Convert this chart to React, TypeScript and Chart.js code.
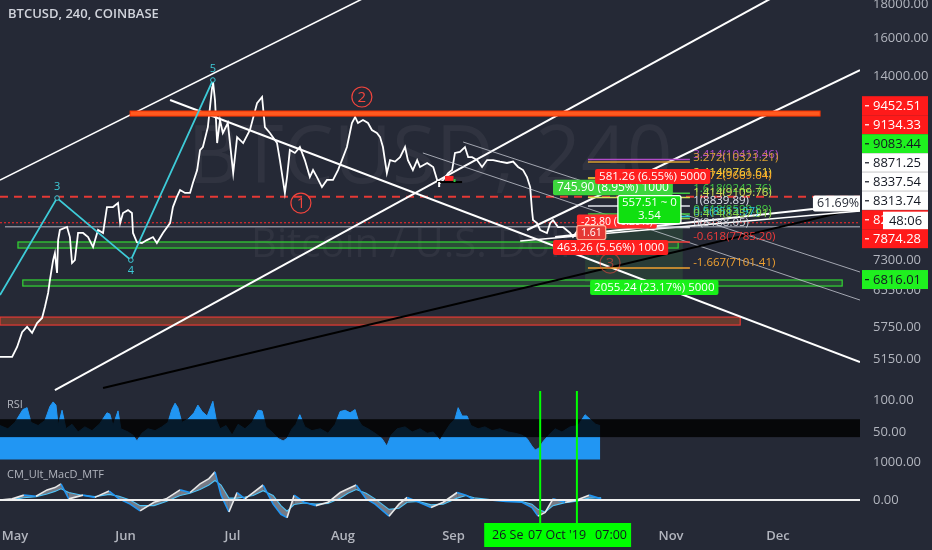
import React, { useEffect, useRef } from 'react';
import { Chart, registerables } from 'chart.js';

Chart.register(...registerables);

// ---------------- data (days counted from 1 May 2019) ----------------
const priceDays = [-4.2,-0.8,0.6,2.0,3.4,4.8,6.2,7.6,8.4,9.3,9.8,10.7,11.2,11.8,12.1,12.6,14.6,15.4,16.0,16.8,17.7,19.1,20.5,21.9,23.3,24.7,25.8,27.5,28.9,29.5,30.3,31.7,32.8,33.1,34.2,35.6,37.0,38.7,39.8,41.5,43.5,44.3,45.4,46.3,47.7,49.1,49.9,51.1,51.9,52.7,54.1,55.3,55.5,56.1,56.7,57.5,58.3,59.7,61.2,62.3,64.0,65.9,67.9,69.3,70.1,71.5,73.5,74.3,75.7,76.3,77.1,78.5,79.9,81.3,82.7,83.6,84.7,86.1,87.5,89.2,90.6,91.7,93.1,94.5,95.4,96.2,97.6,99.0,100.1,101.5,102.4,103.2,104.3,105.2,106.6,108.0,109.4,110.2,111.6,112.8,113.6,115.6,117.3,118.4,119.2,120.1,121.5,122.6,123.4,124.8,126.2,127.1,128.2,129.6,131.0,132.4,134.1,136.0,138.0,139.7,141.1,142.5,143.6,144.5,145.0,145.3,146.4,147.3,149.2,150.1,150.9,152.3,153.7,155.7,156.5,158.5,160.7,162.7];
const priceCloses = [5185,5185,5370,5660,5765,5645,5845,5950,6185,6500,6805,7300,7485,6975,7835,8120,8205,7920,7225,7300,8035,8035,7920,7645,8120,8035,8805,8805,8930,8320,8620,8710,8620,8035,7775,7755,7835,7920,7755,8035,8320,8805,9125,9350,9255,9255,9585,10035,10770,10885,11680,13455,13795,12850,11040,11975,11440,11850,9930,11275,11040,11560,12715,12990,11680,11440,11040,10395,9255,9790,10770,10660,10885,10395,9790,10035,9790,9450,9690,9690,10035,10395,10885,11850,12105,11850,11975,11850,11560,11440,11275,10885,9930,10395,10340,10505,10885,10395,10035,10395,10145,10290,10145,9690,9585,9690,9930,10035,10660,10700,10885,10505,10505,10395,10145,10395,10395,10340,10290,10340,10145,10035,9790,9450,8710,8410,8320,8120,8035,8320,8410,8205,8205,8035,7920,8205,8340,8230];

const rsiDays = [-4.2,-2.0,0,2.2,3.4,4.5,6.5,8.4,9.8,10.7,11.5,12.1,13.2,14.3,16.0,17.7,19.6,21.6,23.8,25.8,26.6,27.5,28.9,29.7,31.7,33.1,34.2,35.6,37.3,39.3,41.2,42.9,44.0,44.9,45.7,46.8,48.5,50.2,51.3,52.5,53.9,55.5,56.4,57.5,59.2,60.9,62.6,64.5,66.5,68.2,69.3,70.4,72.1,73.8,75.2,76.3,77.7,78.8,79.9,81.3,83.3,85.6,87.8,89.8,91.2,92.6,94.0,95.4,96.2,97.3,99.0,101.0,102.9,104.3,105.5,107.2,109.4,111.4,113.6,115.6,117.3,119.2,120.6,122.0,123.4,124.3,125.4,126.8,127.9,129.9,131.8,133.8,136.0,138.3,140.3,142.2,143.6,145.0,145.9,147.0,148.1,149.5,151.5,153.4,155.7,157.9,159.9,161.3,162.9,164.1];
const rsiValues = [60,55,65,85,88,65,60,68,90,97,92,60,84,55,62,50,58,52,63,80,78,60,83,55,50,45,36,48,55,52,58,65,85,95,88,65,70,80,92,82,75,98,70,55,60,45,62,55,65,84,83,58,50,40,36,40,55,62,77,58,52,55,48,62,82,84,80,85,70,60,55,48,40,28,45,55,58,50,55,48,50,37,50,62,70,88,75,75,60,55,58,52,55,50,48,45,40,28,22,25,35,44,55,50,58,60,77,70,62,60];

const macdDays = [-4.2,-0.8,2.5,5.9,9.0,11.2,12.9,15.1,19.1,22.4,26.4,29.2,32.3,35.1,39.0,42.4,46.3,49.1,51.9,54.4,56.1,57.8,60.0,62.3,64.5,66.8,69.6,72.4,74.6,76.3,78.3,81.1,84.4,87.8,91.2,93.4,95.7,98.5,101.0,104.9,107.7,110.0,113.3,116.7,120.1,124.0,126.5,128.8,133.2,137.7,142.2,145.0,146.7,148.7,150.9,154.3,157.6,161.0,164.4];
const macdValues = [0,30,130,100,270,330,430,30,130,70,240,30,-110,-290,-60,30,270,200,430,570,750,130,-320,200,30,200,400,-110,-380,-470,130,-60,-150,-60,200,300,400,30,-110,-430,-110,70,-60,-200,-60,200,130,0,0,-40,-60,-200,-430,-330,30,-60,0,130,30];
const signalValues = [0,10,60,90,160,230,300,200,120,90,150,100,0,-150,-150,-40,120,180,280,400,520,400,50,50,80,120,250,120,-150,-300,-120,-80,-110,-90,50,180,280,180,30,-250,-220,-60,-40,-130,-110,50,120,60,10,-20,-40,-110,-250,-320,-150,-70,-30,50,60];

const xTickDays = [0, 31, 61, 92, 123, 153, 184, 214];
const xTickLabels = ['May', 'Jun', 'Jul', 'Aug', 'Sep', 'Oct', 'Nov', 'Dec'];
const priceTicks = [18000, 16000, 14000, 7300, 6550, 5750, 5150];
const rsiTicks = [100, 50];
const macdTicks = [1000, 0];
const rsiBand = [42, 70];
const rsiFloor = 7;

const horizontalLevels = [
  { id: 'breakdown', price: 9134.33, from: -4.2, to: 237 },
  { id: 'lastPrice', price: 8330, from: -4.2, to: 237 },
  { id: 'pivot', price: 8210, from: -2.8, to: 237 },
];

const zones = [
  { id: 'supportA', from: 0.84, to: 186.0, hi: 7783, lo: 7618 },
  { id: 'supportB', from: 2.2, to: 232.0, hi: 6805, lo: 6661 },
  { id: 'demand', from: -4.2, to: 203.4, hi: 5969, lo: 5803 },
  { id: 'target', from: 159.9, to: 187.3, hi: 8234, lo: 6755 },
];
const resistance = { id: 'resist', from: 32.3, to: 225.8, hi: 12362, lo: 12145 };

const trendLines = [
  { id: 'chanTop', d1: -4.2, p1: 9686, d2: 102.4, p2: 18957 },
  { id: 'chanBase', d1: 11.2, p1: 4613, d2: 217.4, p2: 19093 },
  { id: 'riseB', d1: 143.6, p1: 8120, d2: 237.0, p2: 14290 },
  { id: 'fallC', d1: 43.5, p1: 12853, d2: 237.0, p2: 5093 },
  { id: 'thin1', d1: 125.7, p1: 11080, d2: 237.0, p2: 6999 },
  { id: 'thin2', d1: 114.4, p1: 10660, d2: 237.0, p2: 6339 },
  { id: 'black', d1: 24.7, p1: 4645, d2: 237.0, p2: 8775 },
  { id: 'fan1', d1: 151.5, p1: 7920, d2: 223.8, p2: 8744 },
  { id: 'fan2', d1: 141.7, p1: 7810, d2: 237.0, p2: 8682 },
];

const waveDays = [-4.2, 11.8, 32.5, 55.5];
const wavePrices = [6453, 9090, 7300, 13795];
const waveLabels = ['', '3', '4', '5'];

const circleDays = [80.2, 97.3, 166.9];
const circlePrices = [8930, 12990, 7225];
const circleLabels = ['1', '2', '3'];

const fibRatios = ['3.414', '3.272', '2.414', '2.272', '1.618', '1.414', '1', '0.618', '0.5', '0.414', '0', '-0.618', '-1.667'];
const fibPrices = [10413.46, 10321.21, 9761.61, 9669.04, 9242.76, 9109.76, 8839.89, 8590.89, 8513.97, 8457.91, 8188.05, 7785.20, 7101.41];
const fibSpan = [160.7, 189.3];
const fibLabelDay = 190.2;

const positionLabels = [
  { id: 'longA', day: 150.9, price: 9433, lines: ['745.90 (8.95%) 1000'] },
  { id: 'shortA', day: 162.7, price: 9808, lines: ['581.26 (6.55%) 5000'] },
  { id: 'delta', day: 157.6, price: 8366, lines: ['-23.80 (-0.29%)'] },
  { id: 'deltaB', day: 157.6, price: 8046, lines: ['1.61'] },
  { id: 'range', day: 169.1, price: 8728, lines: ['557.51 ~ 0', '3.54'] },
  { id: 'shortB', day: 150.9, price: 7632, lines: ['463.26 (5.56%) 1000'] },
  { id: 'longB', day: 161.3, price: 6626, lines: ['2055.24 (23.17%) 5000'] },
  { id: 'pct', day: 223.8, price: 8915, lines: ['61.69%'] },
];

const markerSegment = { from: 118.4, to: 125.4, price: 9619 };
const markerFlag = { from: 120.6, to: 123.0, hi: 9830, lo: 9660 };

const axisTagValues = [9452.51, 9134.33, 9083.44, 8871.25, 8337.54, 8313.74, 8226.13, 7874.28, 6816.01];
const axisTagGroups = ['sell', 'sell', 'buy', 'line', 'line', 'line', 'last', 'sell', 'buy'];
const countdownText = '48:06';

const cursorDays = [147.3, 157.6];
const timeBox = { from: 131.6, to: 172.8 };
const timeParts = ["26 Se", "07 Oct '19", '07:00'];
const timePartDays = [133.8, 143.9, 162.7];

// ---------------- layout / styles ----------------
const W = 932;
const H = 550;
const BG = '#252936';
const TXT = '#b2b5be';
const FONT = '"Open Sans", "Noto Sans", sans-serif';
const PANE = { price: [0, 391], rsi: [391, 462], macd: [462, 520] };
const RANGE = { day: [-4.2, 237], price: [2914, 18302], rsi: [-87.5, 725], macd: [-533, 13333] };

const LINE_STYLE: any = {
  breakdown: { color: '#e53935', width: 2, dash: [8, 6] },
  lastPrice: { color: '#ff2a2a', width: 1, dash: [2, 2] },
  pivot: { color: 'rgba(160,163,175,0.8)', width: 1.5 },
  chanTop: { color: '#ffffff', width: 1.6 },
  chanBase: { color: '#ffffff', width: 2 },
  riseB: { color: '#ffffff', width: 2 },
  fallC: { color: '#ffffff', width: 2 },
  thin1: { color: 'rgba(205,208,218,0.75)', width: 1 },
  thin2: { color: 'rgba(205,208,218,0.75)', width: 1 },
  black: { color: '#000000', width: 2 },
  fan1: { color: '#ffffff', width: 2 },
  fan2: { color: '#ffffff', width: 1.5 },
};
const ZONE_STYLE: any = {
  supportA: { fill: 'rgba(60,170,60,0.28)', stroke: '#33d633', width: 1.2 },
  supportB: { fill: 'rgba(60,170,60,0.22)', stroke: '#33d633', width: 1.2 },
  demand: { fill: 'rgba(170,80,40,0.5)', stroke: '#e53935', width: 1.2 },
  target: { fill: 'rgba(60,170,60,0.16)', stroke: null, width: 0 },
  resist: { fill: '#ff5a1f', stroke: '#ff3300', width: 1 },
};
const FIB_COLOR: any = {
  '3.414': '#b04bc8', '3.272': '#d9a030', '2.414': '#ffe23b', '2.272': '#ffa726',
  '1.618': '#43c943', '1.414': '#d4e157', '1': '#e0e3eb', '0.618': '#43c943',
  '0.5': '#26c6da', '0.414': '#8bd34a', '0': '#d1d4dc', '-0.618': '#f23b3b', '-1.667': '#f0a030',
};
const BOX_STYLE: any = {
  longA: { bg: '#3dd63d', fg: '#ffffff', border: null, size: 12 },
  shortA: { bg: '#ff1f1f', fg: '#ffffff', border: null, size: 11.5 },
  delta: { bg: '#ff2a2a', fg: '#ffffff', border: null, size: 10.5 },
  deltaB: { bg: '#e53935', fg: '#ffffff', border: '#ffab91', size: 10.5 },
  range: { bg: '#10e010', fg: '#ffffff', border: '#ffffff', size: 11.5 },
  shortB: { bg: '#ff1f1f', fg: '#ffffff', border: null, size: 11.5 },
  longB: { bg: '#19f019', fg: '#ffffff', border: null, size: 11.5 },
  pct: { bg: '#ffffff', fg: '#2a2e39', border: null, size: 12.5 },
};
const TAG_STYLE: any = {
  sell: { bg: '#ff1a1a', fg: '#ffffff' },
  buy: { bg: '#1ff01f', fg: '#131722' },
  line: { bg: '#ffffff', fg: '#131722' },
  last: { bg: '#ff1a1a', fg: '#ffffff' },
};
const CYAN = '#3ecbd8';
const CIRCLE_RED = '#f2453d';
const RSI_BLUE = '#2196f3';

// ---------------- helpers ----------------
const X = (c: any, d: number) => c.scales.x.getPixelForValue(d);
const P = (c: any, v: number) => c.scales.y.getPixelForValue(v);
const R = (c: any, v: number) => c.scales.rsi.getPixelForValue(v);
const M = (c: any, v: number) => c.scales.macd.getPixelForValue(v);

function clip(ctx: any, c: any, pane: number[]) {
  const a = c.chartArea;
  ctx.save();
  ctx.beginPath();
  ctx.rect(a.left, pane[0], a.right - a.left, pane[1] - pane[0]);
  ctx.clip();
}

function stroke(ctx: any, x1: number, y1: number, x2: number, y2: number, st: any) {
  ctx.beginPath();
  ctx.strokeStyle = st.color;
  ctx.lineWidth = st.width;
  ctx.setLineDash(st.dash || []);
  ctx.moveTo(x1, y1);
  ctx.lineTo(x2, y2);
  ctx.stroke();
  ctx.setLineDash([]);
}

function zone(ctx: any, c: any, z: any) {
  const st = ZONE_STYLE[z.id];
  const x1 = X(c, z.from), x2 = X(c, z.to);
  const y1 = P(c, z.hi), y2 = P(c, z.lo);
  ctx.fillStyle = st.fill;
  ctx.fillRect(x1, y1, x2 - x1, y2 - y1);
  if (st.stroke) {
    ctx.strokeStyle = st.stroke;
    ctx.lineWidth = st.width;
    ctx.strokeRect(x1, y1, x2 - x1, y2 - y1);
  }
}

function roundRect(ctx: any, x: number, y: number, w: number, h: number, r: number) {
  ctx.beginPath();
  ctx.moveTo(x + r, y);
  ctx.lineTo(x + w - r, y);
  ctx.quadraticCurveTo(x + w, y, x + w, y + r);
  ctx.lineTo(x + w, y + h - r);
  ctx.quadraticCurveTo(x + w, y + h, x + w - r, y + h);
  ctx.lineTo(x + r, y + h);
  ctx.quadraticCurveTo(x, y + h, x, y + h - r);
  ctx.lineTo(x, y + r);
  ctx.quadraticCurveTo(x, y, x + r, y);
  ctx.closePath();
}

const annotate = {
  id: 'annotate',
  beforeDraw(c: any) {
    const ctx = c.ctx;
    ctx.save();
    ctx.fillStyle = BG;
    ctx.fillRect(0, 0, c.width, c.height);
    ctx.restore();
  },
  beforeDatasetsDraw(c: any) {
    const ctx = c.ctx;
    const a = c.chartArea;
    clip(ctx, c, PANE.price);
    const cx = (a.left + a.right) / 2;
    ctx.fillStyle = 'rgba(255,255,255,0.05)';
    ctx.textAlign = 'center';
    ctx.textBaseline = 'alphabetic';
    ctx.font = `80px ${FONT}`;
    ctx.fillText('BTCUSD, 240', cx, 183);
    ctx.font = `40px ${FONT}`;
    ctx.fillText('Bitcoin / U.S. Dollar', cx, 257);
    zones.forEach((z) => zone(ctx, c, z));
    horizontalLevels.forEach((h) => {
      const y = P(c, h.price);
      stroke(ctx, X(c, h.from), y, X(c, h.to), y, LINE_STYLE[h.id]);
    });
    ctx.restore();

    // RSI area (filled from the line down to the floor value)
    clip(ctx, c, PANE.rsi);
    const base = R(c, rsiFloor);
    ctx.beginPath();
    ctx.moveTo(X(c, rsiDays[0]), base);
    rsiDays.forEach((d, i) => ctx.lineTo(X(c, d), R(c, rsiValues[i])));
    ctx.lineTo(X(c, rsiDays[rsiDays.length - 1]), base);
    ctx.closePath();
    ctx.fillStyle = RSI_BLUE;
    ctx.fill();
    ctx.beginPath();
    rsiDays.forEach((d, i) => {
      const x = X(c, d), y = R(c, rsiValues[i]);
      if (i === 0) ctx.moveTo(x, y); else ctx.lineTo(x, y);
    });
    ctx.strokeStyle = RSI_BLUE;
    ctx.lineWidth = 1;
    ctx.stroke();
    ctx.restore();
  },
  afterDatasetsDraw(c: any) {
    const ctx = c.ctx;
    const a = c.chartArea;
    // ---- price pane ----
    clip(ctx, c, PANE.price);
    trendLines.forEach((t) => {
      stroke(ctx, X(c, t.d1), P(c, t.p1), X(c, t.d2), P(c, t.p2), LINE_STYLE[t.id]);
    });
    zone(ctx, c, resistance);

    {
      const y = P(c, markerSegment.price);
      stroke(ctx, X(c, markerSegment.from), y, X(c, markerSegment.to), y, { color: '#000000', width: 2 });
      const fx1 = X(c, markerFlag.from), fx2 = X(c, markerFlag.to);
      ctx.fillStyle = '#ff2a2a';
      ctx.fillRect(fx1, P(c, markerFlag.hi), fx2 - fx1, P(c, markerFlag.lo) - P(c, markerFlag.hi));
      ctx.fillStyle = '#2ecc40';
      ctx.fillRect(fx2, y - 3, 2, 3);
      ctx.fillStyle = '#ffffff';
      ctx.fillRect(X(c, markerSegment.from) + 1, y, 2, 5);
    }

    const fx1 = X(c, fibSpan[0]), fx2 = X(c, fibSpan[1]), lx = X(c, fibLabelDay);
    ctx.font = `11.5px ${FONT}`;
    ctx.textAlign = 'left';
    ctx.textBaseline = 'bottom';
    fibRatios.forEach((r, i) => {
      const y = P(c, fibPrices[i]);
      stroke(ctx, fx1, y, fx2, y, { color: FIB_COLOR[r], width: 1.5 });
    });
    fibRatios.forEach((r, i) => {
      const y = P(c, fibPrices[i]);
      ctx.fillStyle = FIB_COLOR[r];
      ctx.fillText(`${r}(${fibPrices[i].toFixed(2)})`, lx, y + 1);
    });

    ctx.strokeStyle = CYAN;
    ctx.lineWidth = 1.8;
    ctx.beginPath();
    waveDays.forEach((d, i) => {
      const x = X(c, d), y = P(c, wavePrices[i]);
      if (i === 0) ctx.moveTo(x, y); else ctx.lineTo(x, y);
    });
    ctx.stroke();
    ctx.font = `11px ${FONT}`;
    ctx.textAlign = 'center';
    ctx.textBaseline = 'middle';
    waveDays.forEach((d, i) => {
      if (!waveLabels[i]) return;
      const x = X(c, d), y = P(c, wavePrices[i]);
      ctx.beginPath();
      ctx.arc(x, y, 2.3, 0, Math.PI * 2);
      ctx.fillStyle = BG;
      ctx.fill();
      ctx.lineWidth = 1;
      ctx.stroke();
      ctx.fillStyle = CYAN;
      const below = i > 0 && i < waveDays.length - 1 && wavePrices[i] < wavePrices[i - 1];
      ctx.fillText(waveLabels[i], x, below ? y + 11 : y - 11);
    });

    circleDays.forEach((d, i) => {
      const x = X(c, d), y = P(c, circlePrices[i]);
      ctx.globalAlpha = i === 2 ? 0.55 : 1;
      ctx.beginPath();
      ctx.arc(x, y, 10, 0, Math.PI * 2);
      ctx.strokeStyle = CIRCLE_RED;
      ctx.lineWidth = 1.2;
      ctx.stroke();
      ctx.fillStyle = CIRCLE_RED;
      ctx.font = `15px ${FONT}`;
      ctx.textAlign = 'center';
      ctx.textBaseline = 'middle';
      ctx.fillText(circleLabels[i], x, y + 1);
      ctx.globalAlpha = 1;
    });

    positionLabels.forEach((b) => {
      const st = BOX_STYLE[b.id];
      ctx.font = `${st.size}px ${FONT}`;
      const tw = Math.max(...b.lines.map((l) => ctx.measureText(l).width));
      const w = tw + 8;
      const lh = st.size + 1.5;
      const h = b.lines.length * lh + 2;
      const x = X(c, b.day);
      const yc = P(c, b.price);
      const y = yc - h / 2;
      roundRect(ctx, x, y, w, h, 2);
      ctx.fillStyle = st.bg;
      ctx.fill();
      if (st.border) {
        ctx.strokeStyle = st.border;
        ctx.lineWidth = 1.3;
        ctx.stroke();
      }
      ctx.fillStyle = st.fg;
      ctx.textAlign = 'center';
      ctx.textBaseline = 'middle';
      b.lines.forEach((l, k) => ctx.fillText(l, x + w / 2, y + 1 + lh * (k + 0.5)));
    });
    ctx.restore();

    // ---- RSI band ----
    clip(ctx, c, PANE.rsi);
    const bt = R(c, rsiBand[1]), bb = R(c, rsiBand[0]);
    ctx.fillStyle = 'rgba(0,0,0,0.82)';
    ctx.fillRect(a.left, bt, a.right - a.left, bb - bt);
    ctx.restore();

    // ---- MACD zero line ----
    clip(ctx, c, PANE.macd);
    const z0 = M(c, 0);
    stroke(ctx, a.left, z0, a.right, z0, { color: '#f0f0f0', width: 2 });
    ctx.restore();

    cursorDays.forEach((d) => {
      const x = X(c, d);
      stroke(ctx, x, PANE.rsi[0], x, PANE.macd[1] + 3, { color: '#00ff00', width: 2 });
    });

    ctx.save();
    ctx.textAlign = 'left';
    ctx.textBaseline = 'middle';
    ctx.fillStyle = '#d1d4dc';
    ctx.font = `600 13px ${FONT}`;
    ctx.fillText('BTCUSD, 240, COINBASE', 8, 14);
    ctx.fillStyle = TXT;
    ctx.font = `11px ${FONT}`;
    ctx.fillText('RSI', 7, 405);
    ctx.fillText('CM_Ult_MacD_MTF', 7, 475);
    ctx.restore();
  },
  afterDraw(c: any) {
    const ctx = c.ctx;
    const a = c.chartArea;
    const ax = a.right + 13;
    ctx.save();
    ctx.font = `13px ${FONT}`;
    ctx.textAlign = 'left';
    ctx.textBaseline = 'middle';
    ctx.fillStyle = TXT;
    rsiTicks.forEach((v) => ctx.fillText(v.toFixed(2), ax, R(c, v)));
    macdTicks.forEach((v) => ctx.fillText(v.toFixed(2), ax, M(c, v)));

    const TAG_H = 19;
    const items = axisTagValues.map((v, i) => ({ v, g: axisTagGroups[i], y: P(c, v), py: 0 }));
    const order = [...items].sort((p, q) => p.v - q.v);
    let prev = Infinity;
    order.forEach((t) => {
      t.py = Math.min(t.y, prev - TAG_H);
      prev = t.py;
    });
    const tx = a.right + 2, tw = 66;
    items.forEach((t) => {
      const st = TAG_STYLE[t.g];
      ctx.fillStyle = st.bg;
      ctx.fillRect(tx, t.py - TAG_H / 2, tw, TAG_H);
      if (t.g === 'line') {
        ctx.fillStyle = 'rgba(0,0,0,0.12)';
        ctx.fillRect(tx, t.py + TAG_H / 2 - 1, tw, 1);
      }
      ctx.fillStyle = st.fg;
      ctx.fillRect(tx + 3, t.py - 0.5, 4, 1.2);
      ctx.fillText(t.v.toFixed(2), ax, t.py + 0.5);
      if (t.g === 'last') {
        ctx.fillStyle = '#ffffff';
        ctx.fillRect(tx + 21, t.py - 8, tw - 21, TAG_H);
        ctx.fillStyle = '#131722';
        ctx.textAlign = 'center';
        ctx.fillText(countdownText, tx + 21 + (tw - 21) / 2, t.py + 1.5);
        ctx.textAlign = 'left';
      }
    });

    const bx1 = X(c, timeBox.from), bx2 = X(c, timeBox.to);
    ctx.fillStyle = '#00ff00';
    ctx.fillRect(bx1, a.bottom + 3, bx2 - bx1, 24);
    ctx.fillStyle = '#131722';
    ctx.font = `12.5px ${FONT}`;
    timeParts.forEach((s, i) => ctx.fillText(s, X(c, timePartDays[i]), a.bottom + 15.5));
    ctx.restore();
  },
};

export default function App() {
  const ref = useRef<HTMLCanvasElement>(null);
  useEffect(() => {
    document.body.style.margin = '0';
    document.body.style.background = BG;
    const canvas = ref.current as HTMLCanvasElement;
    const pricePts = priceDays.map((d, i) => ({ x: d, y: priceCloses[i] }));
    const macdPts = macdDays.map((d, i) => ({ x: d, y: macdValues[i] }));
    const sigPts = macdDays.map((d, i) => ({ x: d, y: signalValues[i] }));
    const chart = new Chart(canvas, {
      type: 'line',
      data: {
        datasets: [
          { label: 'BTCUSD', data: pricePts, yAxisID: 'y', borderColor: '#ffffff', borderWidth: 1.8, pointRadius: 0, tension: 0, fill: false },
          {
            label: 'MACD', data: macdPts, yAxisID: 'macd', borderWidth: 1.6, pointRadius: 0, tension: 0, fill: false,
            borderColor: '#e8e8e8',
            segment: { borderColor: (s: any) => (s.p1.parsed.y >= s.p0.parsed.y ? '#e8e8e8' : '#2196f3') },
          },
          {
            label: 'Signal', data: sigPts, yAxisID: 'macd', borderColor: '#4fc3f7', borderWidth: 1.1, pointRadius: 0, tension: 0,
            fill: { target: 1, above: 'rgba(128,131,142,0.9)', below: 'rgba(128,131,142,0.9)' },
          },
        ],
      },
      options: {
        responsive: false,
        animation: false,
        events: [],
        layout: { padding: 0 },
        plugins: { legend: { display: false }, tooltip: { enabled: false } },
        scales: {
          x: {
            type: 'linear', min: RANGE.day[0], max: RANGE.day[1],
            grid: { display: false, drawTicks: false }, border: { display: false },
            ticks: {
              autoSkip: false, maxRotation: 0, padding: 8, color: TXT,
              font: { family: FONT, size: 13, weight: '600' },
              callback: (_v: any, i: number) => xTickLabels[i] ?? '',
            },
            afterBuildTicks: (s: any) => { s.ticks = xTickDays.map((v) => ({ value: v })); },
            afterFit: (s: any) => { s.height = 30; s.paddingLeft = 0; s.paddingRight = 0; },
          },
          y: {
            type: 'logarithmic', position: 'right', min: RANGE.price[0], max: RANGE.price[1],
            grid: { display: false, drawTicks: false }, border: { display: false },
            ticks: {
              autoSkip: false, padding: 13, color: TXT, font: { family: FONT, size: 13 },
              callback: (v: any) => Number(v).toFixed(2),
            },
            afterBuildTicks: (s: any) => { s.ticks = priceTicks.map((v) => ({ value: v })); },
            afterFit: (s: any) => { s.width = 72; s.paddingTop = 0; s.paddingBottom = 0; },
          },
          rsi: { type: 'linear', axis: 'y', display: false, min: RANGE.rsi[0], max: RANGE.rsi[1] },
          macd: { type: 'linear', axis: 'y', display: false, min: RANGE.macd[0], max: RANGE.macd[1] },
        },
      } as any,
      plugins: [annotate as any],
    });
    return () => chart.destroy();
  }, []);
  return (
    <div style={{ width: W, height: H, background: BG }}>
      <canvas ref={ref} width={W} height={H} style={{ display: 'block', width: W, height: H }} />
    </div>
  );
}
